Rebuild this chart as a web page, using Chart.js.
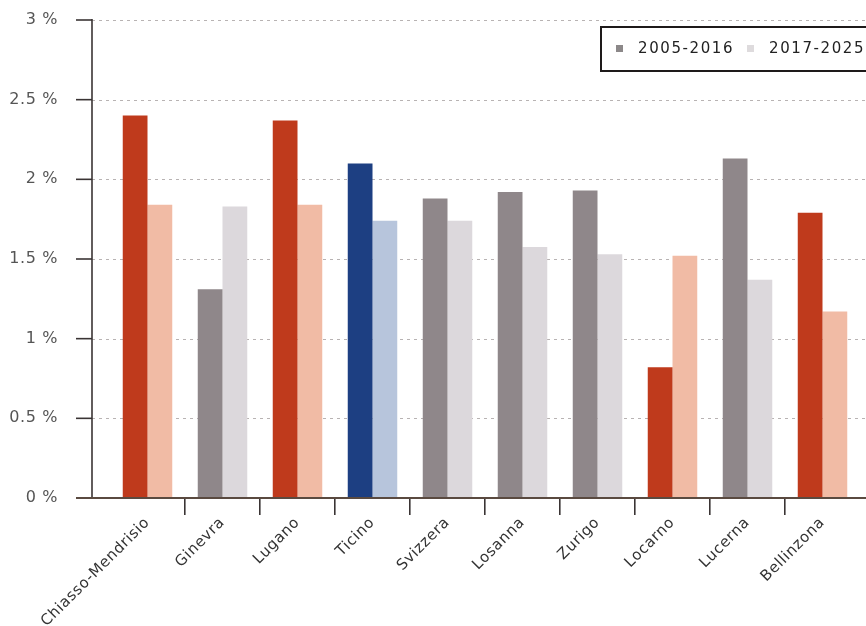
<!DOCTYPE html>
<html>
<head>
<meta charset="utf-8">
<script src="https://cdn.jsdelivr.net/npm/chart.js@4/dist/chart.umd.min.js"></script>
<style>
  html, body { margin: 0; padding: 0; background: #fff; overflow: hidden; }
  #wrap { width: 866px; height: 626px; }
</style>
</head>
<body>
<div id="wrap"><canvas id="chart" width="866" height="626"></canvas></div>
<script>
// Crescita media annua per regione
const categories = ['Chiasso-Mendrisio', 'Ginevra', 'Lugano', 'Ticino', 'Svizzera',
  'Losanna', 'Zurigo', 'Locarno', 'Lucerna', 'Bellinzona'];
const seriesLabels = ['2005-2016', '2017-2025'];
const values2005 = [2.40, 1.31, 2.37, 2.10, 1.88, 1.92, 1.93, 0.82, 2.13, 1.79];
const values2017 = [1.84, 1.83, 1.84, 1.74, 1.74, 1.575, 1.53, 1.52, 1.37, 1.17];
const yTicks = [0, 0.5, 1, 1.5, 2, 2.5, 3];
// gruppo di colore per categoria: r = regioni ticinesi, t = cantone, g = resto
const groups = ['r', 'g', 'r', 't', 'g', 'g', 'g', 'r', 'g', 'r'];

const palette = {
  r: ['#bf3a1c', '#f1bba5'],
  t: ['#1d3f82', '#b7c5dc'],
  g: ['#8f878a', '#dcd8dc']
};
const legendColors = ['#8c8889', '#dedbdd'];

const AXIS_GAP = 18; // asse y staccato dalla prima categoria

const fmt = v => String(v) + ' %';

const decor = {
  id: 'decor',
  beforeDraw(chart) {
    chart.ctx.letterSpacing = '0.6px';
  },
  beforeDatasetsDraw(chart) {
    const { ctx, scales: { y }, chartArea } = chart;
    const ax = chartArea.left - AXIS_GAP;
    ctx.save();
    ctx.setLineDash([3, 4]);
    ctx.strokeStyle = '#b8b3b3';
    ctx.lineWidth = 1;
    yTicks.forEach(v => {
      if (v === 0) return;
      const py = Math.round(y.getPixelForValue(v)) + 0.5;
      ctx.beginPath();
      ctx.moveTo(ax, py);
      ctx.lineTo(chart.width, py);
      ctx.stroke();
    });
    ctx.restore();
  },
  afterDatasetsDraw(chart) {
    const { ctx, scales: { y }, chartArea } = chart;
    const ax = chartArea.left - AXIS_GAP;
    ctx.save();
    ctx.strokeStyle = '#3a3434';
    ctx.lineWidth = 1.6;
    // tacche asse y
    yTicks.forEach(v => {
      const py = y.getPixelForValue(v);
      ctx.beginPath();
      ctx.moveTo(ax - 16, py);
      ctx.lineTo(ax, py);
      ctx.stroke();
    });
    // asse y
    ctx.beginPath();
    ctx.moveTo(ax, y.getPixelForValue(3) - 1);
    ctx.lineTo(ax, chartArea.bottom);
    ctx.stroke();
    // asse x
    ctx.strokeStyle = '#5a4a40';
    ctx.lineWidth = 2;
    ctx.beginPath();
    ctx.moveTo(ax - 16, chartArea.bottom);
    ctx.lineTo(chart.width, chartArea.bottom);
    ctx.stroke();

    // legenda
    const lx = 601, ly = 27;
    ctx.fillStyle = '#fff';
    ctx.fillRect(lx, ly, 300, 44);
    ctx.strokeStyle = '#1e1a1a';
    ctx.lineWidth = 2;
    ctx.strokeRect(lx, ly, 300, 44);
    ctx.font = '15px "DejaVu Sans", sans-serif';
    ctx.letterSpacing = '1.6px';
    ctx.textBaseline = 'middle';
    const items = [[616, 638], [747, 769]];
    seriesLabels.forEach((lab, i) => {
      ctx.fillStyle = legendColors[i];
      ctx.fillRect(items[i][0], 45, 7, 7);
      ctx.fillStyle = '#222';
      ctx.fillText(lab, items[i][1], 49);
    });
    ctx.restore();
  }
};

const n = categories.length;

new Chart(document.getElementById('chart'), {
  type: 'bar',
  data: {
    labels: categories,
    datasets: [
      {
        label: seriesLabels[0],
        data: values2005,
        backgroundColor: groups.map(g => palette[g][0])
      },
      {
        label: seriesLabels[1],
        data: values2017,
        backgroundColor: groups.map(g => palette[g][1])
      }
    ]
  },
  options: {
    responsive: false,
    animation: false,
    layout: { padding: { top: 20, right: 6, left: 0, bottom: 0 } },
    datasets: { bar: { categoryPercentage: 0.66, barPercentage: 1.0 } },
    plugins: { legend: { display: false }, tooltip: { enabled: false } },
    scales: {
      x: {
        offset: true,
        border: { display: false },
        grid: {
          offset: true,
          drawOnChartArea: false,
          tickLength: 17,
          lineWidth: 1.6,
          color: c => (c.index === undefined || c.index === 0 || c.index >= n) ? 'rgba(0,0,0,0)' : '#3a3434'
        },
        ticks: {
          autoSkip: false,
          maxRotation: 45,
          minRotation: 45,
          padding: -1,
          color: '#333',
          font: { family: 'DejaVu Sans', size: 15 }
        },
        afterFit: s => { s.height = 128; }
      },
      y: {
        min: 0,
        max: 3,
        border: { display: false },
        grid: { display: false, drawTicks: false },
        afterBuildTicks: s => { s.ticks = yTicks.map(v => ({ value: v })); },
        ticks: {
          padding: 52,
          color: '#555',
          font: { family: 'DejaVu Sans', size: 16 },
          callback: v => fmt(v)
        },
        afterFit: s => {
          s.width = 110;
          s.paddingTop = 0;
          s.paddingBottom = 0;
        }
      }
    }
  },
  plugins: [decor]
});
</script>
</body>
</html>
